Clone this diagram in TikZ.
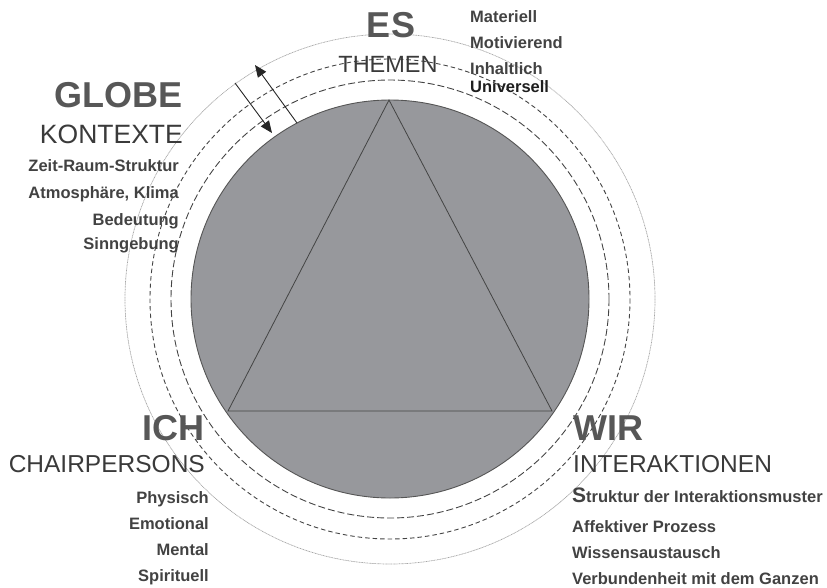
\documentclass[tikz,border=0pt]{standalone}
\usepackage{fontspec}
\setmainfont{Liberation Sans}
\usetikzlibrary{arrows.meta}

\definecolor{discgray}{HTML}{97989C}
\definecolor{discedge}{HTML}{555555}
\definecolor{headgray}{HTML}{575757}
\definecolor{subgray}{HTML}{3A3A3A}
\definecolor{itemgray}{HTML}{424242}
\definecolor{itemdark}{HTML}{1E1E1E}
\definecolor{ringgray}{HTML}{444444}

\tikzset{
  heading/.style={font=\fontsize{36}{40}\selectfont\bfseries, text=headgray, inner sep=0},
  subhead/.style={font=\fontsize{24.5}{28}\selectfont, text=subgray, inner sep=0},
  item/.style={font=\fontsize{16.5}{19}\selectfont\bfseries, text=itemgray, inner sep=0},
  innerring/.style={draw=ringgray, line width=0.9pt, dash pattern=on 7pt off 3pt},
  midring/.style={draw=ringgray, line width=0.9pt, dash pattern=on 4.5pt off 3pt},
  outerring/.style={draw=gray!70, line width=0.7pt, dash pattern=on 1pt off 0.6pt},
  edge/.style={draw=ringgray, line width=0.8pt},
  ptr/.style={draw=black!85, line width=0.9pt, -{Triangle[length=12pt,width=10pt]}}
}

\begin{document}
\begin{tikzpicture}[x=1pt,y=-1pt]
\useasboundingbox (0,0) rectangle (827,587);

% centre of the disc and rings
\coordinate (c) at (390,299);

% rings
\draw[outerring] (c) circle[radius=265];
\draw[midring] (c) circle[radius=240];
\draw[innerring] (c) circle[radius=219];

% grey disc
\fill[discgray] (c) circle[radius=199];
\draw[discedge, line width=0.9pt] (c) circle[radius=199];

% triangle ES - ICH - WIR
\coordinate (apex) at (389,100);
\coordinate (left) at (228,411);
\coordinate (right) at (552,411);
\draw[edge] (apex) -- (left) -- (right) -- cycle;

% two opposite arrows across the rings
\coordinate (outA) at (297,123);
\coordinate (outB) at (255,65);
\coordinate (inA) at (235,83);
\coordinate (inB) at (272,133);
\draw[ptr] (outA) -- (outB);
\draw[ptr] (inA) -- (inB);

% ES / THEMEN
\node[heading, anchor=base] (es) at (391,37) {ES};
\node[subhead, anchor=base, font=\fontsize{23.5}{28}\selectfont] (themen) at (388,72) {THEMEN};
\node[item, anchor=base west] (materiell) at (470,22) {Materiell};
\node[item, anchor=base west] (motiv) at (470,48) {Motivierend};
\node[item, anchor=base west] (inhalt) at (470,74) {Inhaltlich};
\node[item, anchor=base west, text=itemdark] (univ) at (470,92) {Universell};

% GLOBE / KONTEXTE
\node[heading, anchor=base east] (globe) at (183,107) {GLOBE};
\node[subhead, anchor=base east, font=\fontsize{26.5}{30}\selectfont] (kontexte) at (183,143) {KONTEXTE};
\node[item, anchor=base east] (zeit) at (179,171) {Zeit-Raum-Struktur};
\node[item, anchor=base east] (atmo) at (179,198) {Atmosphäre, Klima};
\node[item, anchor=base east] (bed) at (179,225) {Bedeutung};
\node[item, anchor=base east] (sinn) at (179,249) {Sinngebung};

% ICH / CHAIRPERSONS
\node[heading, anchor=base east] (ich) at (205,440) {ICH};
\node[subhead, anchor=base east] (chair) at (205,472) {CHAIRPERSONS};
\node[item, anchor=base east] (phys) at (209,503) {Physisch};
\node[item, anchor=base east] (emo) at (209,529) {Emotional};
\node[item, anchor=base east] (ment) at (209,555) {Mental};
\node[item, anchor=base east] (spir) at (209,581) {Spirituell};

% WIR / INTERAKTIONEN
\node[heading, anchor=base west] (wir) at (573,440) {WIR};
\node[subhead, anchor=base west] (inter) at (573,472) {INTERAKTIONEN};
\node[item, anchor=base west] (struk) at (572,502) {{\fontsize{21}{22}\selectfont S}truktur der Interaktionsmuster};
\node[item, anchor=base west] (affekt) at (572,532) {Affektiver Prozess};
\node[item, anchor=base west] (wissen) at (572,558) {Wissensaustausch};
\node[item, anchor=base west] (verb) at (572,584) {Verbundenheit mit dem Ganzen};
\end{tikzpicture}
\end{document}
